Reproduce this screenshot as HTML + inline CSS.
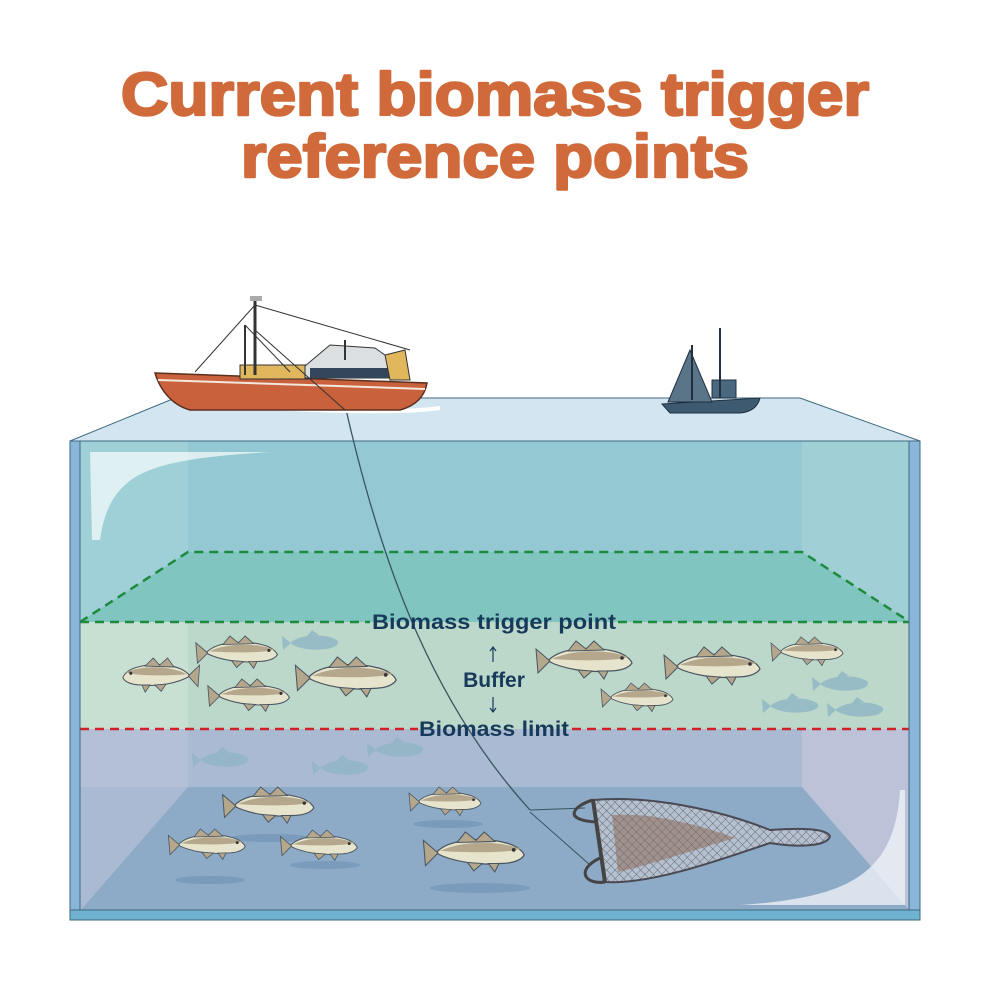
<!DOCTYPE html>
<html><head><meta charset="utf-8"><style>
html,body{margin:0;padding:0;background:#fff;}
svg{display:block;}
</style></head><body>
<svg width="990" height="990" viewBox="0 0 990 990" xmlns="http://www.w3.org/2000/svg">
<defs>
<g id="fish">
  <path d="M-40,0 C-30,-12 0,-16 25,-10 C35,-8 42,-3 44,2 C40,8 30,10 20,10 C0,12 -25,8 -40,0 Z" fill="#e6e4cc" stroke="#4a5560" stroke-width="1.2"/>
  <path d="M-38,0 L-52,-12 L-50,12 Z" fill="#b4a78c" stroke="#4a5560" stroke-width="1"/>
  <path d="M-20,-10 L-12,-20 L-2,-12 L6,-20 L16,-11 Z" fill="#b4a78c" stroke="#4a5560" stroke-width="1"/>
  <path d="M-36,-2 C-15,-12 20,-12 40,-4 C30,0 -10,0 -36,-2Z" fill="#b4a78c"/>
  <path d="M-10,9 L-4,17 L4,10 Z M10,10 L16,18 L20,10Z" fill="#b4a78c" stroke="#4a5560" stroke-width="1"/>
  <circle cx="34" cy="-3" r="1.8" fill="#333"/>
</g>
<g id="shadowfish">
  <path d="M-25,0 C-15,-9 10,-10 22,-3 C25,0 22,5 10,6 C-5,8 -18,5 -25,0Z M-24,0 L-33,-7 L-32,7Z M-8,-7 L-3,-13 L4,-8Z" fill="#8fb5c4" opacity="0.8"/>
</g>
<pattern id="mesh" width="6" height="6" patternUnits="userSpaceOnUse" patternTransform="rotate(45)">
  <rect width="6" height="6" fill="#b6c1cf"/>
  <path d="M0,0 L6,0 M0,0 L0,6" stroke="#4a4a55" stroke-width="0.7"/>
</pattern>
</defs>

<!-- Title -->
<g font-family="Liberation Sans, sans-serif" font-weight="bold" font-size="60" fill="#d06a3a" stroke="#d06a3a" stroke-width="2.5" stroke-linejoin="round" text-anchor="middle">
<text x="495" y="115" textLength="748" lengthAdjust="spacingAndGlyphs">Current biomass trigger</text>
<text x="495" y="177" textLength="508" lengthAdjust="spacingAndGlyphs">reference points</text>
</g>

<!-- top surface -->
<polygon points="70,441 175,398 800,398 920,441" fill="#d2e5f0" stroke="#3d6a80" stroke-width="1"/>

<!-- front water bands -->
<rect x="80" y="441" width="830" height="470" fill="#94c8d3"/>
<rect x="80" y="441" width="108" height="470" fill="#a7d4da" opacity="0.6"/>
<rect x="802" y="441" width="108" height="470" fill="#a8d3d8" opacity="0.6"/>
<polygon points="80,622 188,552 802,552 910,622" fill="#80c5bf"/>
<rect x="80" y="622" width="830" height="107" fill="#bcd8cb"/>
<rect x="80" y="622" width="108" height="107" fill="#c8e0d2"/>
<rect x="80" y="729" width="830" height="182" fill="#a9bad2"/>
<rect x="802" y="729" width="108" height="182" fill="#bcc3d8"/>
<polygon points="80,911 188,787 802,787 910,911" fill="#8daac6"/>
<rect x="80" y="729" width="108" height="58" fill="#b3c0d6"/>
<path d="M90,452 L270,452 C150,460 110,470 100,540 L92,540 Z" fill="#eef7f8" opacity="0.8"/>
<path d="M905,790 L905,905 L740,905 C840,898 895,880 900,790Z" fill="#eef1f6" opacity="0.8"/>

<!-- dashed lines -->
<polyline points="80,622 188,552 802,552 910,622" fill="none" stroke="#1d8a3e" stroke-width="2.5" stroke-dasharray="9,6"/>
<line x1="80" y1="622" x2="370" y2="622" stroke="#1d8a3e" stroke-width="2.5" stroke-dasharray="9,6"/>
<line x1="618" y1="622" x2="910" y2="622" stroke="#1d8a3e" stroke-width="2.5" stroke-dasharray="9,6"/>
<line x1="80" y1="729" x2="418" y2="729" stroke="#d0202a" stroke-width="2.5" stroke-dasharray="9,6"/>
<line x1="572" y1="729" x2="910" y2="729" stroke="#d0202a" stroke-width="2.5" stroke-dasharray="9,6"/>

<!-- frame -->
<rect x="70" y="441" width="10" height="479" fill="#8ab6da" stroke="#3d6a80" stroke-width="1"/>
<rect x="909" y="441" width="11" height="479" fill="#8ab6da" stroke="#3d6a80" stroke-width="1"/>
<rect x="70" y="910" width="850" height="10" fill="#6fb3d0" stroke="#3d6a80" stroke-width="1"/>
<line x1="70" y1="441" x2="920" y2="441" stroke="#3d6a80" stroke-width="1"/>

<!-- shadow fish -->
<use href="#shadowfish" transform="translate(315,643)"/>
<use href="#shadowfish" transform="translate(225,760)"/>
<use href="#shadowfish" transform="translate(345,768)"/>
<use href="#shadowfish" transform="translate(400,750)"/>
<use href="#shadowfish" transform="translate(845,684)"/>
<use href="#shadowfish" transform="translate(795,706)"/>
<use href="#shadowfish" transform="translate(860,710)"/>

<!-- fish in buffer -->
<use href="#fish" transform="translate(158,676) scale(-0.8,0.9)"/>
<use href="#fish" transform="translate(240,653) scale(0.85)"/>
<use href="#fish" transform="translate(252,696) scale(0.85)"/>
<use href="#fish" transform="translate(350,678) scale(1.05)"/>
<use href="#fish" transform="translate(588,661) scale(1.0)"/>
<use href="#fish" transform="translate(640,698) scale(0.75)"/>
<use href="#fish" transform="translate(716,667) scale(1.0)"/>
<use href="#fish" transform="translate(810,652) scale(0.75)"/>
<!-- bottom fish -->
<ellipse cx="270" cy="838" rx="40" ry="4" fill="#7b9bbd"/>
<ellipse cx="210" cy="880" rx="35" ry="4" fill="#7b9bbd"/>
<ellipse cx="325" cy="865" rx="35" ry="4" fill="#7b9bbd"/>
<ellipse cx="448" cy="824" rx="35" ry="4" fill="#7b9bbd"/>
<ellipse cx="480" cy="888" rx="50" ry="5" fill="#7b9bbd"/>
<use href="#fish" transform="translate(272,806) scale(0.95)"/>
<use href="#fish" transform="translate(210,845) scale(0.8)"/>
<use href="#fish" transform="translate(322,846) scale(0.8)"/>
<use href="#fish" transform="translate(448,802) scale(0.75)"/>
<use href="#fish" transform="translate(478,853) scale(1.05)"/>

<!-- tow line -->
<path d="M345,405 C380,560 430,700 530,810" fill="none" stroke="#3a5560" stroke-width="1.3"/>
<path d="M530,810 L585,808 M530,812 L590,865" stroke="#3a5560" stroke-width="1"/>
<!-- net -->
<path d="M593,800 C650,795 720,810 770,830 C800,828 825,828 830,836 C828,846 800,848 770,843 C720,860 650,885 605,882 Z" fill="url(#mesh)" stroke="#4a4a55" stroke-width="2"/>
<path d="M612,815 C650,812 700,825 735,838 C700,848 650,865 618,872Z" fill="#8a6a5a" opacity="0.55"/>
<line x1="593" y1="800" x2="605" y2="882" stroke="#444" stroke-width="4"/>
<path d="M593,800 C575,805 560,820 597,822" fill="none" stroke="#444" stroke-width="3"/>
<path d="M605,882 C585,885 575,870 600,858" fill="none" stroke="#444" stroke-width="3"/>

<!-- labels -->
<g font-family="Liberation Sans, sans-serif" font-weight="bold" fill="#173a5a" text-anchor="middle">
<text x="494" y="629" font-size="21" textLength="244" lengthAdjust="spacingAndGlyphs">Biomass trigger point</text>
<text x="494" y="687" font-size="21">Buffer</text>
<text x="494" y="736" font-size="21" textLength="150" lengthAdjust="spacingAndGlyphs">Biomass limit</text>
</g>
<path d="M493,662 L493,648 M490,651 L493,647 L496,651" stroke="#173a5a" stroke-width="1.2" fill="none"/>
<path d="M493,697 L493,711 M490,708 L493,712 L496,708" stroke="#173a5a" stroke-width="1.2" fill="none"/>

<!-- big boat -->
<path d="M172,400 C250,408 380,416 440,408" stroke="#ffffff" stroke-width="4" fill="none"/>
<path d="M155,373 L427,383 C425,395 418,405 400,410 L190,410 C172,405 160,390 155,373Z" fill="#c9613c" stroke="#5a3020" stroke-width="1.5"/>
<path d="M158,380 L425,389" stroke="#f2e8dc" stroke-width="2"/>
<rect x="240" y="365" width="70" height="14" fill="#e0b75c" stroke="#333" stroke-width="1"/>
<path d="M305,366 L330,345 L375,348 L392,360 L392,378 L305,378Z" fill="#dcdfe2" stroke="#333" stroke-width="1"/>
<rect x="310" y="368" width="80" height="10" fill="#34475a"/>
<path d="M385,355 L405,350 L410,380 L390,380Z" fill="#e0b75c" stroke="#333" stroke-width="1"/>
<line x1="255" y1="300" x2="255" y2="375" stroke="#333" stroke-width="3"/>
<line x1="245" y1="325" x2="245" y2="375" stroke="#333" stroke-width="2"/>
<line x1="345" y1="340" x2="345" y2="360" stroke="#333" stroke-width="2"/>
<path d="M255,305 L195,372 M255,305 L410,350 M245,325 L290,372 M255,330 L345,410" stroke="#333" stroke-width="1" fill="none"/>
<rect x="250" y="296" width="12" height="5" fill="#aaa"/>

<!-- small boat -->
<path d="M662,404 L760,398 C758,406 752,412 740,413 L670,413 Z" fill="#3d5a70" stroke="#203040" stroke-width="1"/>
<path d="M690,350 L668,402 L712,402 Z" fill="#5a7488" stroke="#203040" stroke-width="1"/>
<rect x="712" y="380" width="24" height="18" fill="#4a6880" stroke="#203040"/>
<line x1="720" y1="328" x2="720" y2="398" stroke="#203040" stroke-width="2"/>
<line x1="692" y1="345" x2="692" y2="400" stroke="#203040" stroke-width="2"/>
</svg>
</body></html>
